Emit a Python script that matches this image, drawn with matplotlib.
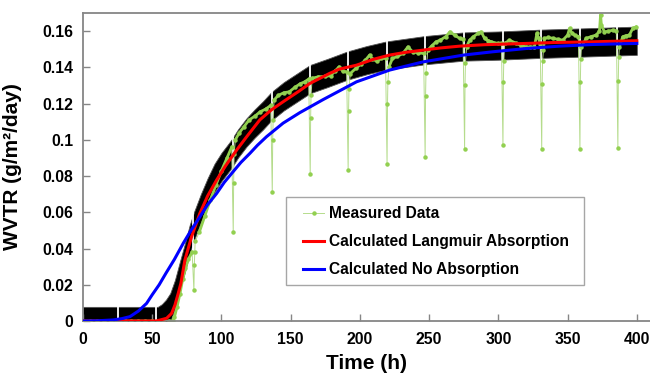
import numpy as np
import matplotlib
matplotlib.use("Agg")
import matplotlib.pyplot as plt
from matplotlib.patches import Rectangle
from matplotlib.ticker import FuncFormatter

plt.rcParams['font.family'] = ['Liberation Sans', 'DejaVu Sans']
plt.rcParams['font.weight'] = 'bold'

# black error band (centre of measured data, half width)
band_t = [0, 54, 57, 60, 63, 66.4, 70, 74, 77, 80, 85, 90, 95, 100, 107, 112, 118, 124,
          130, 136, 145, 155, 164, 177, 191, 205, 219, 233, 247, 261, 275, 300, 330, 360, 400]
band_mid = [0, 0, 0.0015, 0.004, 0.0075, 0.0148, 0.025, 0.036, 0.045, 0.052, 0.062, 0.071,
            0.079, 0.085, 0.092, 0.098, 0.104, 0.109, 0.1135, 0.1185, 0.124, 0.129, 0.1335,
            0.137, 0.141, 0.144, 0.1465, 0.148, 0.1495, 0.1505, 0.1515, 0.152, 0.153, 0.1537, 0.1547]
band_half = 0.0078

# interruptions in the measurement
gap_t = [25.3, 52.5, 79.8, 108.2, 136.4, 163.8, 191.2, 219.3, 246.8, 275.3, 303, 331, 358.6, 386]

# measured data, in-band part
level_t = [0, 5, 10, 15, 20, 24, 27, 30, 35, 40, 45, 50, 54, 58, 62, 65, 66, 68, 70, 72, 74, 76, 78.8,
           84, 88, 92, 96, 100, 104, 107.4,
           110, 113, 116, 120, 124, 128, 132, 135.6,
           138, 141, 145, 149, 153, 157, 160, 163,
           165.5, 170, 175, 179, 182, 185, 187.5, 190.4,
           193, 197, 201, 204, 207, 209, 212, 215.5, 218.5,
           221, 223.5, 227, 231, 234.7, 238, 242, 246,
           249, 252, 255, 258, 262, 265, 268.4, 272, 274.5,
           277, 279.2, 282, 285.2, 287.6, 290, 292.5, 295, 299.6, 302.2,
           304.5, 308, 313, 316.5, 320, 323, 326, 327.8, 329, 330.2,
           332.5, 333.3, 336, 339.3, 343, 346.5, 350, 351.4, 353, 355, 357.8,
           360, 363.4, 367, 370.6, 373, 373.8, 374.4, 376.6, 379.5, 382.6, 385.2,
           387.4, 389.8, 392, 394.6, 397, 399.5]
level_v = [0, 0, 0, 0, 0, 0, 0, 0, 0, 0, 0, 0, 0, 0, 0, 0, 0.002, 0.008, 0.015, 0.023, 0.029, 0.034, 0.038,
           0.049, 0.058, 0.067, 0.075, 0.083, 0.090, 0.096,
           0.100, 0.104, 0.107, 0.111, 0.113, 0.1155, 0.117, 0.119,
           0.122, 0.1245, 0.126, 0.1265, 0.129, 0.131, 0.132, 0.1335,
           0.134, 0.1348, 0.135, 0.1355, 0.138, 0.1403, 0.138, 0.1375,
           0.1366, 0.1394, 0.142, 0.144, 0.1468, 0.1445, 0.1435, 0.1449, 0.145,
           0.1403, 0.1449, 0.146, 0.1477, 0.1513, 0.1486, 0.148, 0.1477,
           0.1495, 0.152, 0.1541, 0.155, 0.157, 0.1596, 0.1578, 0.156, 0.1555,
           0.1513, 0.155, 0.157, 0.1587, 0.1596, 0.156, 0.1548, 0.1541, 0.1532, 0.1532,
           0.1532, 0.155, 0.1532, 0.152, 0.1513, 0.1513, 0.1513, 0.1587, 0.156, 0.153,
           0.1495, 0.156, 0.1565, 0.156, 0.1555, 0.155, 0.1578, 0.1615, 0.159, 0.1578, 0.157,
           0.1513, 0.156, 0.157, 0.1578, 0.160, 0.169, 0.1633, 0.1596, 0.160, 0.1605, 0.160,
           0.1513, 0.1569, 0.1575, 0.1578, 0.1615, 0.1624]

# measured data, drops at each interruption
dip_t = [80.1, 80.4, 80.7, 81.0,
         108.5, 108.8, 109.1,
         136.7, 137.0, 137.3,
         164.1, 164.4, 164.7,
         191.5, 191.8, 192.1,
         219.6, 219.9, 220.2,
         247.1, 247.4, 247.7,
         275.6, 275.9, 276.2,
         303.3, 303.6, 303.9,
         331.3, 331.6, 331.9,
         358.9, 359.2, 359.5,
         386.3, 386.6, 386.9]
dip_v = [0.017, 0.031, 0.038, 0.044,
         0.049, 0.076, 0.092,
         0.071, 0.100, 0.111,
         0.081, 0.112, 0.125,
         0.0835, 0.116, 0.128,
         0.0864, 0.1195, 0.132,
         0.0907, 0.124, 0.137,
         0.0949, 0.130, 0.1425,
         0.097, 0.132, 0.1436,
         0.0947, 0.131, 0.1436,
         0.0949, 0.132, 0.1447,
         0.0956, 0.1324, 0.1455]

# model curves
red_t = [0, 30, 45, 53, 60.4, 64, 66.4, 68.8, 70.7, 73.6, 78.4, 84.4, 90, 96.5, 103, 110.9, 118,
         127.7, 136, 144.5, 155.3, 163.8, 178.2, 185, 197.5, 210, 221.5, 233, 245.5, 258, 272,
         290, 320, 340, 368, 400]
red_v = [0, 0, 0, 0, 0.0015, 0.0042, 0.0088, 0.0153, 0.0208, 0.0337, 0.0465, 0.0594, 0.069, 0.0778,
         0.0857, 0.0943, 0.1015, 0.111, 0.1165, 0.121, 0.1265, 0.1311, 0.1367, 0.139, 0.1412,
         0.1445, 0.1468, 0.1483, 0.1495, 0.1507, 0.1517, 0.1525, 0.1532, 0.1537, 0.1541, 0.1547]

blue_t = [0, 10, 21.9, 28, 33.9, 40, 45.9, 50, 55, 60, 66, 72.4, 78, 84.4, 90, 96.5, 102, 108.4,
          114, 120.5, 126, 132.5, 144.5, 156.6, 173.4, 197.5, 221.5, 245.5, 275, 296, 320, 344,
          368, 400]
blue_v = [0, 0.0001, 0.0006, 0.0013, 0.0024, 0.0055, 0.0097, 0.0145, 0.020, 0.0265, 0.034, 0.0429,
          0.050, 0.0575, 0.0642, 0.0704, 0.0765, 0.0824, 0.0875, 0.0925, 0.097, 0.1017, 0.1092,
          0.1150, 0.1222, 0.132, 0.1385, 0.143, 0.1468, 0.1486, 0.1504, 0.1517, 0.1526, 0.1532]

green = '#92D050'

fig = plt.figure(figsize=(6.5, 3.8), dpi=100)
ax = fig.add_axes([83 / 650, 1 - 321 / 380, 1 - 83 / 650, (321 - 13) / 380])

bm = np.array(band_mid)
ax.fill_between(band_t, bm - band_half, bm + band_half, color='black', lw=0.6,
                edgecolor='#555555', zorder=1)
ax.vlines(gap_t, 0, 0.17, colors='white', lw=1.3, zorder=1.5)

# all measured points in time order
m_t = np.array(level_t + dip_t)
m_v = np.array(level_v + dip_v)
order = np.argsort(m_t)
ax.plot(m_t[order], m_v[order], color='#b5dc8c', lw=0.7, marker='o', ms=2.2,
        mfc=green, mec=green, zorder=2, label='Measured Data')

# thicker trace inside the band, broken at each interruption
lt = np.array(level_t, dtype=float)
lv = np.array(level_v, dtype=float)
idx = np.searchsorted(lt, gap_t)
lt = np.insert(lt, idx, gap_t)
lv = np.insert(lv, idx, np.nan)
ax.plot(lt, lv, color=green, lw=2.0, zorder=2.1)

ax.plot(red_t, red_v, color='#ff0000', lw=2.2, zorder=3, label='Calculated Langmuir Absorption')
ax.plot(blue_t, blue_v, color='#0000ff', lw=2.2, zorder=3, label='Calculated No Absorption')

ax.set_xlim(0, 409.5)
ax.set_ylim(0, 0.17)
ax.set_xticks(np.arange(0, 401, 50))
ax.set_yticks(np.arange(0, 0.161, 0.02))
ax.yaxis.set_major_formatter(FuncFormatter(lambda v, p: '%g' % round(v, 2)))
ax.tick_params(direction='in', length=5, width=1, color='#868686', labelsize=11.3)
ax.tick_params(axis='x', pad=8)
ax.tick_params(axis='y', pad=7)
for s in ['left', 'bottom', 'top']:
    ax.spines[s].set_color('#868686')
    ax.spines[s].set_linewidth(1.3)
ax.spines['right'].set_visible(False)

ax.set_xlabel('Time (h)', fontsize=15, fontweight='bold', labelpad=5)
ax.set_ylabel('WVTR (g/m²/day)', fontsize=15, fontweight='bold')
ax.yaxis.set_label_coords(-(83 - 22) / 567, 0.5)

ax.add_patch(Rectangle(((286 - 83) / 567, (321 - 285) / 308), 298 / 567, 88 / 308,
                       transform=ax.transAxes, fc='white', ec='#a6a6a6', lw=1, zorder=5))
leg = ax.legend(loc='upper left', bbox_to_anchor=((303 - 83) / 567, (321 - 206) / 308),
                frameon=False, borderpad=0, borderaxespad=0, fontsize=11.2,
                labelspacing=0.84, handlelength=1.35, handletextpad=0.3)
leg.set_zorder(6)
for line in leg.get_lines()[1:]:
    line.set_linewidth(2.2)

fig.savefig('out.png', dpi=100)
